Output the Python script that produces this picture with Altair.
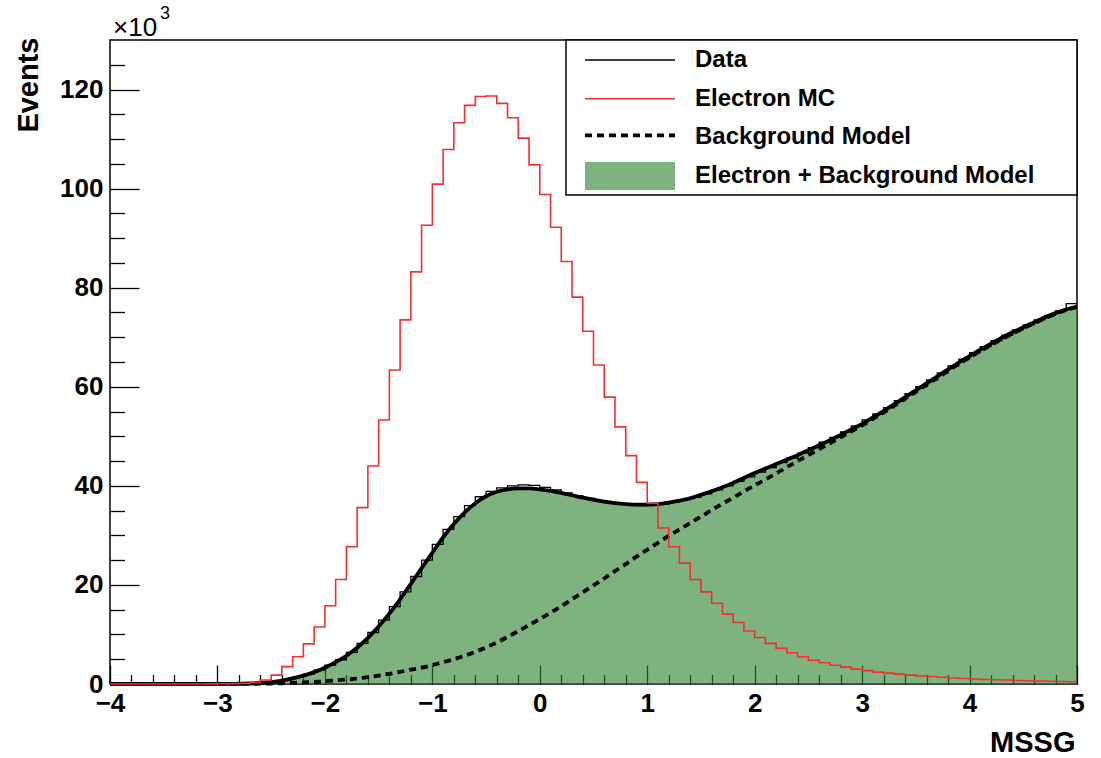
import altair as alt
import pandas as pd

# MSSG histogram binning: 90 bins of width 0.1 between -4 and 5
X_LO, X_HI, N_BINS = -4.0, 5.0, 90
Y_TOP = 130  # thousands of events

# Data, events per bin (x10^3)
data_counts_k = [
    0, 0, 0, 0, 0, 0, 0, 0, 0, 0.005,
    0.01, 0.03, 0.08, 0.15, 0.3, 0.55, 0.9, 1.4, 2.0, 2.8,
    3.8, 4.9, 6.4, 8.2, 10.4, 12.9, 15.6, 18.6, 21.7, 25.0,
    28.2, 31.2, 33.8, 36.0, 37.8, 38.9, 39.6, 40.0, 40.2, 40.1,
    39.7, 39.2, 38.6, 38.0, 37.5, 37.0, 36.6, 36.3, 36.1, 36.0,
    36.1, 36.3, 36.7, 37.2, 37.7, 38.4, 39.2, 40.0, 40.9, 41.8,
    42.8, 43.7, 44.7, 45.6, 46.6, 47.7, 48.8, 49.8, 50.9, 52.1,
    53.3, 54.5, 55.8, 57.2, 58.6, 60.0, 61.4, 62.8, 64.2, 65.6,
    66.9, 68.1, 69.3, 70.4, 71.5, 72.5, 73.5, 74.4, 75.3, 76.8,
]

# Electron MC, events per bin (x10^3)
electron_mc_k = [
    0, 0, 0, 0, 0, 0, 0, 0, 0.01, 0.02,
    0.04, 0.08, 0.15, 0.3, 0.8, 1.8, 3.5, 5.5, 8.1, 11.5,
    15.8, 21.1, 27.7, 35.6, 44.0, 53.3, 63.4, 73.5, 83.2, 92.6,
    100.9, 107.9, 113.3, 116.8, 118.6, 118.7, 117.2, 114.3, 110.2, 104.8,
    98.8, 92.2, 85.3, 78.1, 71.2, 64.4, 57.9, 51.9, 46.1, 40.7,
    36.5, 31.5, 27.7, 24.4, 21.1, 18.6, 16.3, 14.1, 12.4, 10.7,
    9.4, 8.2, 7.2, 6.3, 5.5, 4.8, 4.3, 3.8, 3.4, 3.0,
    2.7, 2.4, 2.2, 2.0, 1.8, 1.6, 1.5, 1.35, 1.2, 1.1,
    1.0, 0.9, 0.85, 0.8, 0.7, 0.65, 0.6, 0.55, 0.5, 0.45,
]

# Fitted models sampled at the bin edges (x10^3)
model_total_k = [
    0, 0, 0, 0, 0, 0, 0, 0, 0, 0, 0.01,
    0.02, 0.05, 0.1, 0.2, 0.4, 0.7, 1.15, 1.7, 2.4, 3.3,
    4.4, 5.7, 7.3, 9.3, 11.6, 14.2, 17.1, 20.2, 23.4, 26.5,
    29.6, 32.3, 34.6, 36.5, 37.9, 38.8, 39.3, 39.5, 39.5, 39.3,
    39.0, 38.6, 38.1, 37.6, 37.2, 36.8, 36.5, 36.3, 36.2, 36.2,
    36.3, 36.6, 37.0, 37.5, 38.2, 38.9, 39.7, 40.6, 41.6, 42.6,
    43.5, 44.4, 45.3, 46.2, 47.2, 48.2, 49.2, 50.3, 51.4, 52.5,
    53.8, 55.1, 56.5, 57.9, 59.3, 60.7, 62.1, 63.5, 64.9, 66.2,
    67.5, 68.7, 69.9, 71.0, 72.0, 73.0, 74.0, 74.9, 75.6, 76.2,
]
background_k = [
    0, 0, 0, 0, 0, 0, 0, 0, 0, 0, 0,
    0.01, 0.02, 0.04, 0.07, 0.1, 0.15, 0.22, 0.3, 0.42, 0.55,
    0.72, 0.9, 1.1, 1.4, 1.7, 2.05, 2.45, 2.9, 3.3, 3.8,
    4.4, 5.0, 5.7, 6.5, 7.4, 8.4, 9.5, 10.7, 11.9, 13.1,
    14.4, 15.7, 17.1, 18.5, 19.9, 21.3, 22.8, 24.2, 25.7, 27.1,
    28.5, 29.9, 31.2, 32.5, 33.8, 35.1, 36.4, 37.6, 38.9, 40.1,
    41.3, 42.5, 43.8, 45.0, 46.2, 47.4, 48.6, 49.8, 51.0, 52.2,
    53.5, 54.8, 56.2, 57.6, 59.0, 60.4, 61.8, 63.2, 64.6, 65.9,
    67.2, 68.4, 69.6, 70.7, 71.8, 72.8, 73.8, 74.7, 75.5, 76.1,
]

x_tick_labels = [-4, -3, -2, -1, 0, 1, 2, 3, 4, 5]
y_tick_labels = [0, 20, 40, 60, 80, 100, 120]
LEGEND_LABELS = ["Data", "Electron MC", "Background Model", "Electron + Background Model"]

W, H = 967, 644
FONT = "Liberation Sans"
GREEN = "#2e8530"
RED = "#f03030"

bin_w = (X_HI - X_LO) / N_BINS
edges = [round(X_LO + i * bin_w, 3) for i in range(N_BINS + 1)]
x_minor = [round(X_LO + 0.2 * i, 2) for i in range(46) if abs(0.2 * i - round(0.2 * i)) > 1e-6]
y_minor = [v for v in range(5, Y_TOP, 5) if v % 20 != 0]

hist_df = pd.DataFrame({
    "edge": edges,
    "data": data_counts_k + [data_counts_k[-1]],
    "mc": electron_mc_k + [electron_mc_k[-1]],
})
model_df = pd.DataFrame({"x": edges, "total": model_total_k, "bkg": background_k})

xs = alt.Scale(domain=[X_LO, X_HI], nice=False, zero=False)
ys = alt.Scale(domain=[0, Y_TOP], nice=False, zero=True)

label_style = dict(labelFont=FONT, labelFontWeight="bold", labelFontSize=26, labelColor="black")
title_style = dict(titleFont=FONT, titleFontWeight="bold", titleFontSize=29, titleColor="black")

x_label_axis = alt.Axis(
    orient="bottom", values=x_tick_labels, ticks=False, domain=False, grid=False,
    labelPadding=6, labelFlush=False, labelOverlap=False, **label_style,
    title="MSSG", titleX=W - 2, titleY=67, titleAlign="right", titleBaseline="alphabetic",
    **title_style,
)
y_label_axis = alt.Axis(
    orient="left", values=y_tick_labels, ticks=False, domain=False, grid=False,
    labelPadding=7, labelFlush=False, labelOverlap=False, **label_style,
    title="Events", titleAngle=270, titleX=-73, titleY=-3, titleAlign="right",
    titleBaseline="alphabetic", **title_style,
)


def tick_axis(orient, offset, values, size):
    # inward-pointing ticks, ROOT style
    return alt.Axis(
        orient=orient, offset=offset, values=values, labels=False, domain=False,
        grid=False, ticks=True, tickSize=size, tickColor="black", tickWidth=1.3,
    )


area = alt.Chart(model_df).mark_area(
    interpolate="monotone", fill=GREEN, fillOpacity=0.62
).encode(
    x=alt.X("x:Q", scale=xs, axis=x_label_axis),
    y=alt.Y("total:Q", scale=ys, axis=y_label_axis),
)

data_steps = alt.Chart(hist_df).mark_line(
    interpolate="step-after", color="black", strokeWidth=1.3
).encode(
    x=alt.X("edge:Q", scale=xs, axis=tick_axis("top", -H, x_tick_labels, 19), title=None),
    y=alt.Y("data:Q", scale=ys, axis=tick_axis("right", -W, y_tick_labels, 29), title=None),
)

bkg_line = alt.Chart(model_df).mark_line(
    interpolate="monotone", color="black", strokeWidth=3.8, strokeDash=[7, 5]
).encode(
    x=alt.X("x:Q", scale=xs, axis=tick_axis("top", -H, x_minor, 9.5), title=None),
    y=alt.Y("bkg:Q", scale=ys, axis=tick_axis("right", -W, y_minor, 14.5), title=None),
)

total_line = alt.Chart(model_df).mark_line(
    interpolate="monotone", color="black", strokeWidth=3.8
).encode(
    x=alt.X("x:Q", scale=xs, axis=None),
    y=alt.Y("total:Q", scale=ys, axis=None),
)

mc_steps = alt.Chart(hist_df).mark_line(
    interpolate="step-after", color=RED, strokeWidth=1.6
).encode(
    x=alt.X("edge:Q", scale=xs, axis=None),
    y=alt.Y("mc:Q", scale=ys, axis=None),
)

# exponent label of the y axis
exp_df = pd.DataFrame({"t": ["\u00d710", "3"]})
exp_main = alt.Chart(exp_df).transform_filter("datum.t != '3'").mark_text(
    font=FONT, fontSize=26, align="left", baseline="alphabetic", color="black"
).encode(text="t:N", x=alt.value(3), y=alt.value(-4))
exp_sup = alt.Chart(exp_df).transform_filter("datum.t == '3'").mark_text(
    font=FONT, fontSize=18, align="left", baseline="alphabetic", color="black"
).encode(text="t:N", x=alt.value(50), y=alt.value(-21))

# legend box
LX0, LX1, LY1 = 456, W, 155
SX0, SX1, TX = 475, 565, 585
row_y = [20 + 38.7 * i for i in range(len(LEGEND_LABELS))]
one = pd.DataFrame({"k": [0]})

legend_layers = [
    alt.Chart(one).mark_rect(fill="white", stroke="black", strokeWidth=1.5).encode(
        x=alt.value(LX0), x2=alt.value(LX1), y=alt.value(0), y2=alt.value(LY1)
    ),
    alt.Chart(one).mark_rule(color="black", strokeWidth=1.3).encode(
        x=alt.value(SX0), x2=alt.value(SX1), y=alt.value(row_y[0])
    ),
    alt.Chart(one).mark_rule(color=RED, strokeWidth=1.6).encode(
        x=alt.value(SX0), x2=alt.value(SX1), y=alt.value(row_y[1])
    ),
    alt.Chart(one).mark_rule(color="black", strokeWidth=3.8, strokeDash=[7, 5]).encode(
        x=alt.value(SX0), x2=alt.value(SX1), y=alt.value(row_y[2] - 2)
    ),
    alt.Chart(one).mark_rect(fill=GREEN, fillOpacity=0.62).encode(
        x=alt.value(SX0), x2=alt.value(SX1), y=alt.value(row_y[3] - 14), y2=alt.value(row_y[3] + 14)
    ),
]
for label, yy in zip(LEGEND_LABELS, row_y):
    legend_layers.append(
        alt.Chart(pd.DataFrame({"label": [label]})).mark_text(
            font=FONT, fontSize=24, fontWeight="bold", align="left", baseline="middle", color="black"
        ).encode(text="label:N", x=alt.value(TX), y=alt.value(yy))
    )

chart = alt.layer(
    area, data_steps, bkg_line, total_line, mc_steps, exp_main, exp_sup, *legend_layers
).resolve_axis(
    x="independent", y="independent"
).properties(
    width=W, height=H,
    padding={"left": 110, "top": 40, "right": 24, "bottom": 74},
    autosize=alt.AutoSizeParams(type="none"),
    background="white",
).configure_view(
    stroke="black", strokeWidth=1.5
)

chart.save("out.html", embed_options={"renderer": "svg", "actions": False})
